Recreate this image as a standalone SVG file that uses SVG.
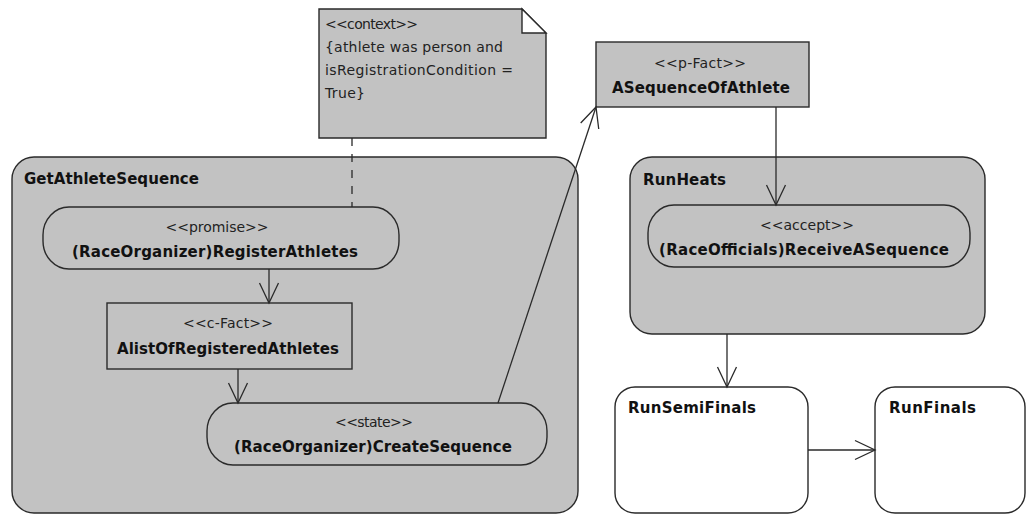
<svg xmlns="http://www.w3.org/2000/svg" width="1027" height="515" viewBox="0 0 1027 515">
<style>
.bg{fill:#ffffff}
.g{fill:#c2c2c2;stroke:#2a2a2a;stroke-width:1.4}
.w{fill:#ffffff;stroke:#2a2a2a;stroke-width:1.4}
.ln{fill:none;stroke:#2a2a2a;stroke-width:1.3}
.dash{fill:none;stroke:#2a2a2a;stroke-width:1.3;stroke-dasharray:8,8}
.st{font-family:"DejaVu Sans",Verdana,sans-serif;font-size:14px;fill:#222;text-anchor:middle}
.nm{font-family:"DejaVu Sans",Verdana,sans-serif;font-size:15px;font-weight:bold;fill:#111;text-anchor:middle}
.tt{font-family:"DejaVu Sans",Verdana,sans-serif;font-size:15px;font-weight:bold;fill:#111}
.nt{font-family:"DejaVu Sans",Verdana,sans-serif;font-size:14px;fill:#222}
</style>
<defs>
<marker id="arr" markerUnits="userSpaceOnUse" markerWidth="24" markerHeight="24" viewBox="-22 -11 24 22" refX="0" refY="0" orient="auto">
<path d="M -20 -9.5 L 0 0 L -20 9.5" fill="none" stroke="#2a2a2a" stroke-width="1.3"/>
</marker>
</defs>
<rect class="bg" x="0" y="0" width="1027" height="515"/>

<g id="GetAthleteSequence">
<rect class="g" x="12" y="157" width="566" height="356" rx="22" ry="22"/>
<text class="tt" x="24" y="184" textLength="175">GetAthleteSequence</text>
</g>

<g id="RunHeats">
<rect class="g" x="630" y="157" width="355" height="177" rx="22" ry="22"/>
<text class="tt" x="643" y="185" textLength="83">RunHeats</text>
</g>

<g id="note">
<path class="g" d="M319 9 L522 9 L546 33 L546 138 L319 138 Z"/>
<path class="w" d="M522 9 L522 33 L546 33 Z"/>
<text class="nt" x="325" y="29" textLength="93">&lt;&lt;context&gt;&gt;</text>
<text class="nt" x="325" y="52" textLength="178">{athlete was person and</text>
<text class="nt" x="325" y="75" textLength="188">isRegistrationCondition =</text>
<text class="nt" x="325" y="98" textLength="40">True}</text>
</g>

<g id="RegisterAthletes">
<rect class="g" x="43" y="207" width="356" height="62" rx="26" ry="28"/>
<text class="st" x="217" y="232" textLength="103">&lt;&lt;promise&gt;&gt;</text>
<text class="nm" x="215" y="257" textLength="286">(RaceOrganizer)RegisterAthletes</text>
</g>

<g id="AlistOfRegisteredAthletes">
<rect class="g" x="107" y="303" width="245" height="66"/>
<text class="st" x="228" y="328" textLength="90">&lt;&lt;c-Fact&gt;&gt;</text>
<text class="nm" x="228" y="354" textLength="222">AlistOfRegisteredAthletes</text>
</g>

<g id="CreateSequence">
<rect class="g" x="207" y="403" width="340" height="62" rx="26" ry="28"/>
<text class="st" x="374" y="427" textLength="78">&lt;&lt;state&gt;&gt;</text>
<text class="nm" x="373" y="452" textLength="278">(RaceOrganizer)CreateSequence</text>
</g>

<g id="ASequenceOfAthlete">
<rect class="g" x="596" y="42" width="213" height="65"/>
<text class="st" x="700" y="68" textLength="92">&lt;&lt;p-Fact&gt;&gt;</text>
<text class="nm" x="701" y="93" textLength="178">ASequenceOfAthlete</text>
</g>

<g id="ReceiveASequence">
<rect class="g" x="648" y="205" width="322" height="62" rx="26" ry="28"/>
<text class="st" x="807" y="230" textLength="94">&lt;&lt;accept&gt;&gt;</text>
<text class="nm" x="804" y="255" textLength="290">(RaceOfficials)ReceiveASequence</text>
</g>

<g id="RunSemiFinals">
<rect class="w" x="615" y="387" width="193" height="126" rx="20" ry="20"/>
<text class="tt" x="628" y="413" textLength="128">RunSemiFinals</text>
</g>

<g id="RunFinals">
<rect class="w" x="875" y="387" width="150" height="126" rx="20" ry="20"/>
<text class="tt" x="889" y="413" textLength="87">RunFinals</text>
</g>

<g id="connectors">
<line class="dash" x1="352" y1="138" x2="352" y2="207"/>
<line class="ln" x1="269" y1="269" x2="269" y2="303" marker-end="url(#arr)"/>
<line class="ln" x1="238" y1="369" x2="238" y2="403" marker-end="url(#arr)"/>
<line class="ln" x1="498" y1="403" x2="596" y2="107" marker-end="url(#arr)"/>
<line class="ln" x1="776" y1="107" x2="776" y2="205" marker-end="url(#arr)"/>
<line class="ln" x1="727" y1="334" x2="727" y2="387" marker-end="url(#arr)"/>
<line class="ln" x1="808" y1="450" x2="875" y2="450" marker-end="url(#arr)"/>
</g>
</svg>
